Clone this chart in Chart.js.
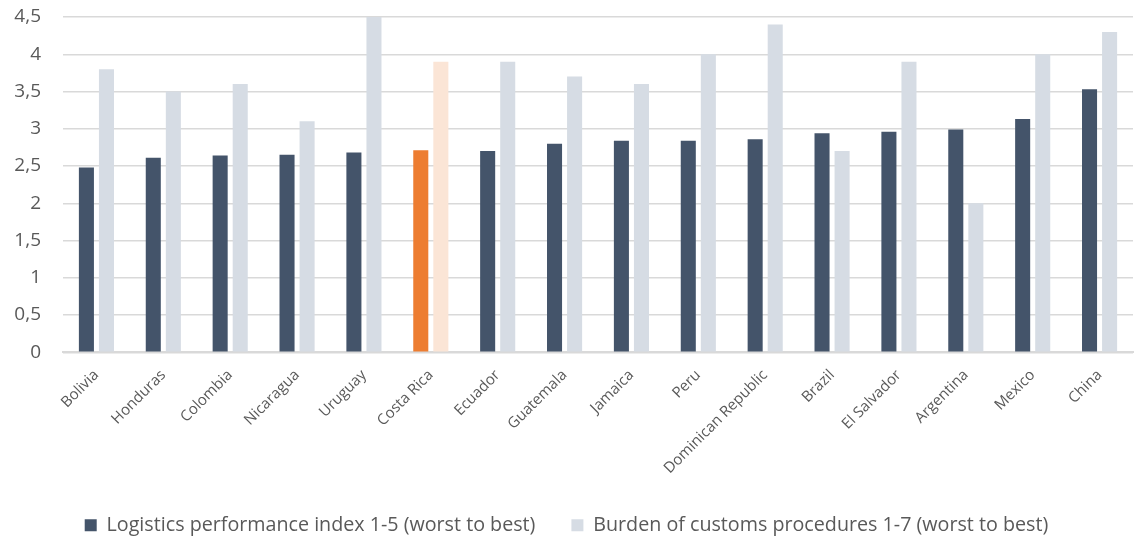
<!DOCTYPE html>
<html>
<head>
<meta charset="utf-8">
<script src="https://cdn.jsdelivr.net/npm/chart.js@4/dist/chart.umd.min.js"></script>
<style>
  html, body { margin: 0; padding: 0; background: #fff; }
  #wrap { width: 1134px; height: 540px; }
</style>
</head>
<body>
<div id="wrap"><canvas id="chart"></canvas></div>
<script>
const countries = ["Bolivia", "Honduras", "Colombia", "Nicaragua", "Uruguay", "Costa Rica", "Ecuador",
    "Guatemala", "Jamaica", "Peru", "Dominican Republic", "Brazil", "El Salvador", "Argentina", "Mexico", "China"];
const logisticsIndex = [2.48, 2.61, 2.64, 2.65, 2.68, 2.71, 2.70, 2.80, 2.84, 2.84, 2.86, 2.94, 2.96, 2.99, 3.13, 3.53];
const customsBurden = [3.8, 3.5, 3.6, 3.1, 4.5, 3.9, 3.9, 3.7, 3.6, 4.0, 4.4, 2.7, 3.9, 2.0, 4.0, 4.3];
const highlight = "Costa Rica";

const dark = "#44546A", light = "#D6DCE4";
const orange = "#ED7D31", lightOrange = "#FBE5D6";

const ctx = document.getElementById("chart").getContext("2d");
Chart.defaults.font.family = "'Open Sans', sans-serif";
Chart.defaults.color = "#595959";

new Chart(ctx, {
    type: "bar",
    data: {
        labels: countries,
        datasets: [{
            label: "Logistics performance index 1-5 (worst to best)",
            data: logisticsIndex,
            backgroundColor: countries.map(c => c === highlight ? orange : dark),
            categoryPercentage: 0.6,
            barPercentage: 0.75
        }, {
            label: "Burden of customs procedures 1-7 (worst to best)",
            data: customsBurden,
            backgroundColor: countries.map(c => c === highlight ? lightOrange : light),
            categoryPercentage: 0.6,
            barPercentage: 0.75
        }]
    },
    options: {
        responsive: true,
        maintainAspectRatio: false,
        animation: false,
        layout: { padding: { top: 0, right: 1, left: 0, bottom: -5 } },
        scales: {
            x: {
                grid: { display: false, drawTicks: false },
                border: { color: "#D9D9D9", width: 2 },
                afterFit: scale => { scale.height = 127; },
                ticks: {
                    autoSkip: false,
                    maxRotation: 45,
                    minRotation: 45,
                    padding: 14,
                    font: { size: 15 }
                }
            },
            y: {
                min: 0,
                max: 4.5,
                grid: { color: "#D9D9D9", lineWidth: 1.5, drawTicks: false },
                border: { display: false },
                afterFit: scale => {
                    scale.width = 63;
                    scale.paddingTop = 17;
                    scale.paddingBottom = 0;
                },
                ticks: {
                    stepSize: 0.5,
                    padding: 22,
                    font: { size: 19 },
                    callback: v => String(v).replace(".", ",")
                }
            }
        },
        plugins: {
            legend: {
                position: "bottom",
                labels: {
                    boxWidth: 12,
                    boxHeight: 12,
                    padding: 36,
                    font: { size: 19.7 },
                    generateLabels: chart => chart.data.datasets.map((ds, i) => ({
                        text: ds.label,
                        fillStyle: i === 0 ? dark : light,
                        strokeStyle: "transparent",
                        lineWidth: 0,
                        datasetIndex: i,
                        fontColor: "#595959"
                    }))
                }
            },
            tooltip: { enabled: false }
        }
    }
});
</script>
</body>
</html>
